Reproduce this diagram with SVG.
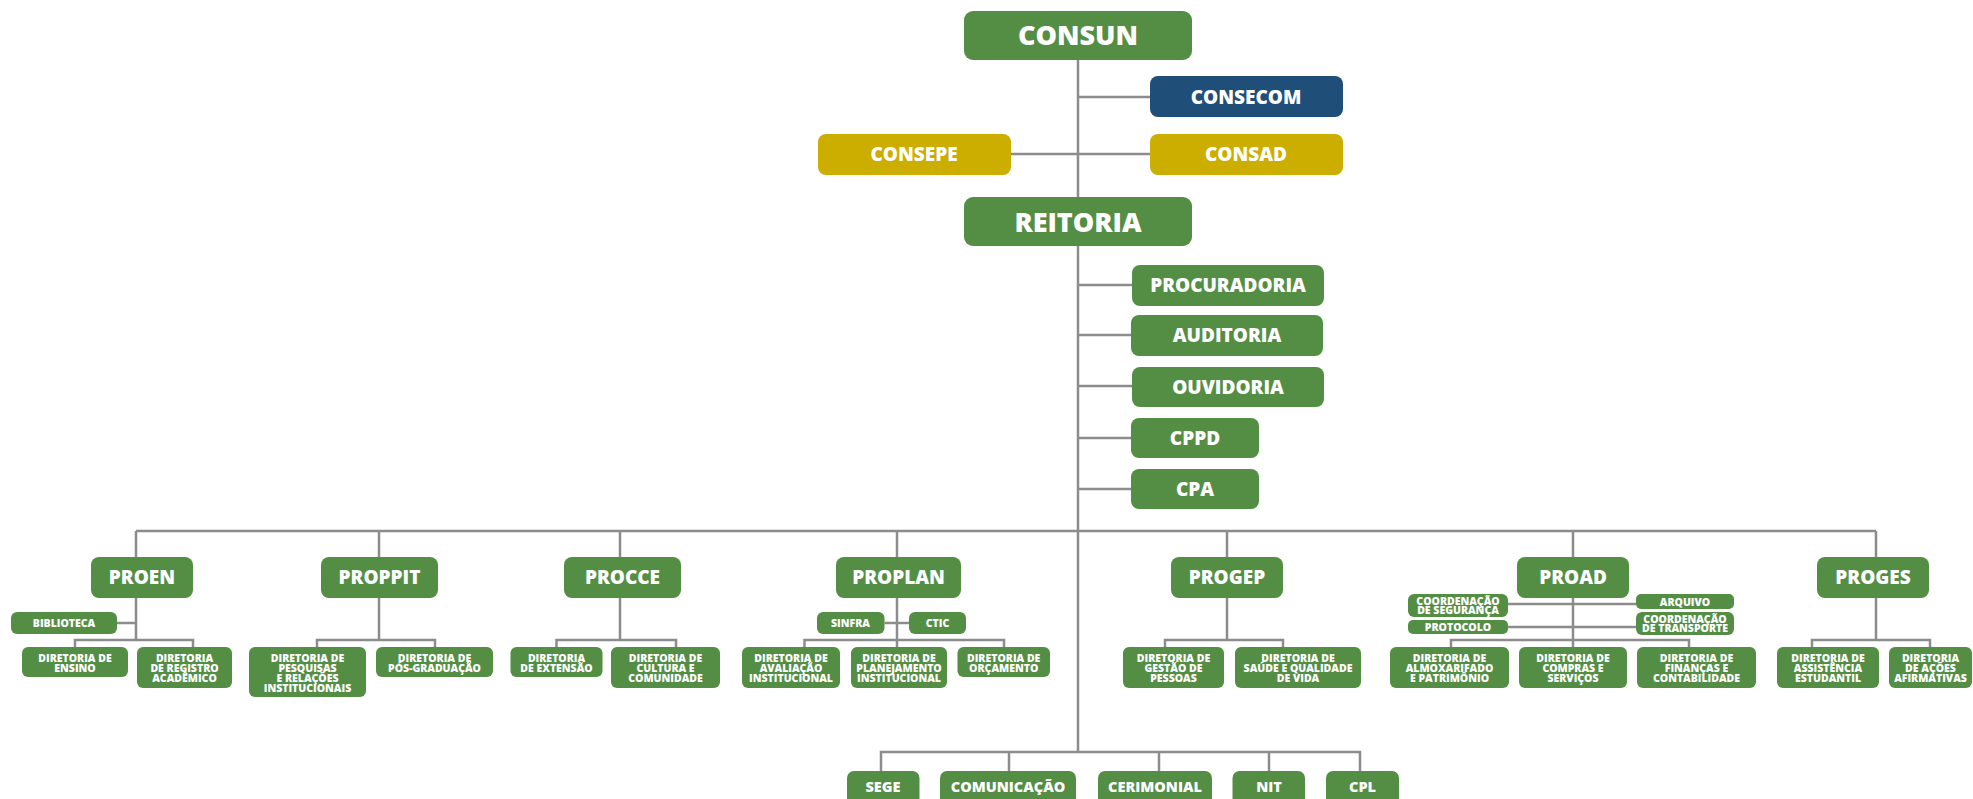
<svg xmlns="http://www.w3.org/2000/svg" width="1973" height="799" viewBox="0 0 1973 799">
<style>
.g{fill:#548e44}
.b{fill:#1f4e79}
.y{fill:#cbae00}
text{font-family:"Open Sans","Liberation Sans",sans-serif;font-weight:800;fill:#fff;text-anchor:middle}
.xl{font-size:27px}
.l{font-size:19px}
.m{font-size:14.5px}
.s{font-size:10.5px}
.c path{stroke:#8c8c8c;stroke-width:2.5;fill:none}
</style>
<rect width="1973" height="799" fill="#fff"/>
<g class="c" id="connectors">
<path d="M1078 60V752"/>
<path d="M1078 97H1150M1011 154H1150"/>
<path d="M1078 285H1132M1078 335H1131M1078 386H1132M1078 438H1131M1078 489H1131"/>
<path d="M136 531H1876M136 531V557M379 531V557M620 531V557M897 531V557M1227 531V557M1573 531V557M1876 531V557"/>
<path d="M136 598V640M117 623H136M75 647V640H193V647"/>
<path d="M379 598V640M317 647V640H435V647"/>
<path d="M620 598V640M556.5 647V640H676V647"/>
<path d="M897 598V647M884.5 623H909M804.5 647V640H1004V647"/>
<path d="M1227 598V640M1165 647V640H1283V647"/>
<path d="M1573 598V647M1508 604H1636M1508 627H1636M1451 647V640H1689V647"/>
<path d="M1876 598V640M1812 647V640H1930V647"/>
<path d="M881 771V752H1360V771M1009 752V771M1159 752V771M1269 752V771"/>
</g>
<g id="consun"><rect class="g" x="964" y="11" width="228" height="49" rx="9"/><text class="xl" x="1078" y="45">CONSUN</text></g>
<g id="consecom"><rect class="b" x="1150" y="76" width="193" height="41" rx="8"/><text class="l" x="1246" y="104">CONSECOM</text></g>
<g id="consepe"><rect class="y" x="818" y="134" width="193" height="41" rx="8"/><text class="l" x="914" y="161">CONSEPE</text></g>
<g id="consad"><rect class="y" x="1150" y="134" width="193" height="41" rx="8"/><text class="l" x="1246" y="161">CONSAD</text></g>
<g id="reitoria"><rect class="g" x="964" y="197" width="228" height="49" rx="9"/><text class="xl" x="1078" y="232">REITORIA</text></g>
<g id="procuradoria"><rect class="g" x="1132" y="265" width="192" height="41" rx="8"/><text class="l" x="1228" y="292">PROCURADORIA</text></g>
<g id="auditoria"><rect class="g" x="1131" y="315" width="192" height="41" rx="8"/><text class="l" x="1227" y="342">AUDITORIA</text></g>
<g id="ouvidoria"><rect class="g" x="1132" y="367" width="192" height="40" rx="8"/><text class="l" x="1228" y="394">OUVIDORIA</text></g>
<g id="cppd"><rect class="g" x="1131" y="418" width="128" height="40" rx="8"/><text class="l" x="1195" y="445">CPPD</text></g>
<g id="cpa"><rect class="g" x="1131" y="469" width="128" height="40" rx="8"/><text class="l" x="1195" y="496">CPA</text></g>

<g id="proen"><rect class="g" x="91" y="557" width="102" height="41" rx="8"/><text class="l" x="142" y="584">PROEN</text></g>
<g id="biblioteca"><rect class="g" x="11" y="612" width="106" height="22" rx="6"/><text class="s" x="64" y="627">BIBLIOTECA</text></g>
<g id="dir-ensino"><rect class="g" x="22" y="647" width="106" height="30" rx="6"/><text class="s" x="75" y="662">DIRETORIA DE<tspan x="75" dy="10">ENSINO</tspan></text></g>
<g id="dir-registro"><rect class="g" x="137" y="647" width="95" height="41" rx="6"/><text class="s" x="184.5" y="662">DIRETORIA<tspan x="184.5" dy="10">DE REGISTRO</tspan><tspan x="184.5" dy="10">ACADÊMICO</tspan></text></g>

<g id="proppit"><rect class="g" x="321" y="557" width="117" height="41" rx="8"/><text class="l" x="379.5" y="584">PROPPIT</text></g>
<g id="dir-pesquisas"><rect class="g" x="249" y="647" width="117" height="50" rx="6"/><text class="s" x="307.5" y="662">DIRETORIA DE<tspan x="307.5" dy="10">PESQUISAS</tspan><tspan x="307.5" dy="10">E RELAÇÕES</tspan><tspan x="307.5" dy="10">INSTITUCIONAIS</tspan></text></g>
<g id="dir-pos"><rect class="g" x="376" y="647" width="117" height="30" rx="6"/><text class="s" x="434.5" y="662">DIRETORIA DE<tspan x="434.5" dy="10">PÓS-GRADUAÇÃO</tspan></text></g>

<g id="procce"><rect class="g" x="564" y="557" width="117" height="41" rx="8"/><text class="l" x="622.5" y="584">PROCCE</text></g>
<g id="dir-extensao"><rect class="g" x="510.5" y="647" width="92" height="30" rx="6"/><text class="s" x="556.5" y="662">DIRETORIA<tspan x="556.5" dy="10">DE EXTENSÃO</tspan></text></g>
<g id="dir-cultura"><rect class="g" x="611" y="647" width="109" height="41" rx="6"/><text class="s" x="665.5" y="662">DIRETORIA DE<tspan x="665.5" dy="10">CULTURA E</tspan><tspan x="665.5" dy="10">COMUNIDADE</tspan></text></g>

<g id="proplan"><rect class="g" x="836" y="557" width="125" height="41" rx="8"/><text class="l" x="898.5" y="584">PROPLAN</text></g>
<g id="sinfra"><rect class="g" x="817" y="612" width="67.5" height="22" rx="6"/><text class="s" x="850.5" y="627">SINFRA</text></g>
<g id="ctic"><rect class="g" x="909" y="612" width="57" height="22" rx="6"/><text class="s" x="937.5" y="627">CTIC</text></g>
<g id="dir-avaliacao"><rect class="g" x="742" y="647" width="98" height="41" rx="6"/><text class="s" x="791" y="662">DIRETORIA DE<tspan x="791" dy="10">AVALIAÇÃO</tspan><tspan x="791" dy="10">INSTITUCIONAL</tspan></text></g>
<g id="dir-planejamento"><rect class="g" x="851" y="647" width="96" height="41" rx="6"/><text class="s" x="899" y="662">DIRETORIA DE<tspan x="899" dy="10">PLANEJAMENTO</tspan><tspan x="899" dy="10">INSTITUCIONAL</tspan></text></g>
<g id="dir-orcamento"><rect class="g" x="957.5" y="647" width="92.5" height="30" rx="6"/><text class="s" x="1003.7" y="662">DIRETORIA DE<tspan x="1003.7" dy="10">ORÇAMENTO</tspan></text></g>

<g id="progep"><rect class="g" x="1171" y="557" width="112" height="41" rx="8"/><text class="l" x="1227" y="584">PROGEP</text></g>
<g id="dir-gestao"><rect class="g" x="1123" y="647" width="101" height="41" rx="6"/><text class="s" x="1173.5" y="662">DIRETORIA DE<tspan x="1173.5" dy="10">GESTÃO DE</tspan><tspan x="1173.5" dy="10">PESSOAS</tspan></text></g>
<g id="dir-saude"><rect class="g" x="1235" y="647" width="126" height="41" rx="6"/><text class="s" x="1298" y="662">DIRETORIA DE<tspan x="1298" dy="10">SAÚDE E QUALIDADE</tspan><tspan x="1298" dy="10">DE VIDA</tspan></text></g>

<g id="proad"><rect class="g" x="1517" y="557" width="112" height="41" rx="8"/><text class="l" x="1573" y="584">PROAD</text></g>
<g id="coord-seguranca"><rect class="g" x="1408" y="594" width="100" height="23" rx="6"/><text class="s" x="1458" y="604.5">COORDENAÇÃO<tspan x="1458" dy="9">DE SEGURANÇA</tspan></text></g>
<g id="protocolo"><rect class="g" x="1408" y="620" width="100" height="14" rx="5"/><text class="s" x="1458" y="630.5">PROTOCOLO</text></g>
<g id="arquivo"><rect class="g" x="1636" y="594" width="98" height="15" rx="5"/><text class="s" x="1685" y="605.5">ARQUIVO</text></g>
<g id="coord-transporte"><rect class="g" x="1636" y="612" width="98" height="23" rx="6"/><text class="s" x="1685" y="622.5">COORDENAÇÃO<tspan x="1685" dy="9">DE TRANSPORTE</tspan></text></g>
<g id="dir-almox"><rect class="g" x="1390" y="647" width="119" height="41" rx="6"/><text class="s" x="1449.5" y="662">DIRETORIA DE<tspan x="1449.5" dy="10">ALMOXARIFADO</tspan><tspan x="1449.5" dy="10">E PATRIMÔNIO</tspan></text></g>
<g id="dir-compras"><rect class="g" x="1519" y="647" width="108" height="41" rx="6"/><text class="s" x="1573" y="662">DIRETORIA DE<tspan x="1573" dy="10">COMPRAS E</tspan><tspan x="1573" dy="10">SERVIÇOS</tspan></text></g>
<g id="dir-financas"><rect class="g" x="1637" y="647" width="119" height="41" rx="6"/><text class="s" x="1696.5" y="662">DIRETORIA DE<tspan x="1696.5" dy="10">FINANÇAS E</tspan><tspan x="1696.5" dy="10">CONTABILIDADE</tspan></text></g>

<g id="proges"><rect class="g" x="1817" y="557" width="112" height="41" rx="8"/><text class="l" x="1873" y="584">PROGES</text></g>
<g id="dir-assistencia"><rect class="g" x="1777" y="647" width="102" height="41" rx="6"/><text class="s" x="1828" y="662">DIRETORIA DE<tspan x="1828" dy="10">ASSISTÊNCIA</tspan><tspan x="1828" dy="10">ESTUDANTIL</tspan></text></g>
<g id="dir-acoes"><rect class="g" x="1889" y="647" width="83" height="41" rx="6"/><text class="s" x="1930.5" y="662">DIRETORIA<tspan x="1930.5" dy="10">DE AÇÕES</tspan><tspan x="1930.5" dy="10">AFIRMATIVAS</tspan></text></g>

<g id="sege"><rect class="g" x="847" y="771" width="72.5" height="36" rx="7"/><text class="m" x="883" y="792">SEGE</text></g>
<g id="comunicacao"><rect class="g" x="940" y="771" width="136" height="36" rx="7"/><text class="m" x="1008" y="792">COMUNICAÇÃO</text></g>
<g id="cerimonial"><rect class="g" x="1098" y="771" width="114" height="36" rx="7"/><text class="m" x="1155" y="792">CERIMONIAL</text></g>
<g id="nit"><rect class="g" x="1232.5" y="771" width="72.5" height="36" rx="7"/><text class="m" x="1269" y="792">NIT</text></g>
<g id="cpl"><rect class="g" x="1326" y="771" width="73" height="36" rx="7"/><text class="m" x="1362.5" y="792">CPL</text></g>
</svg>
